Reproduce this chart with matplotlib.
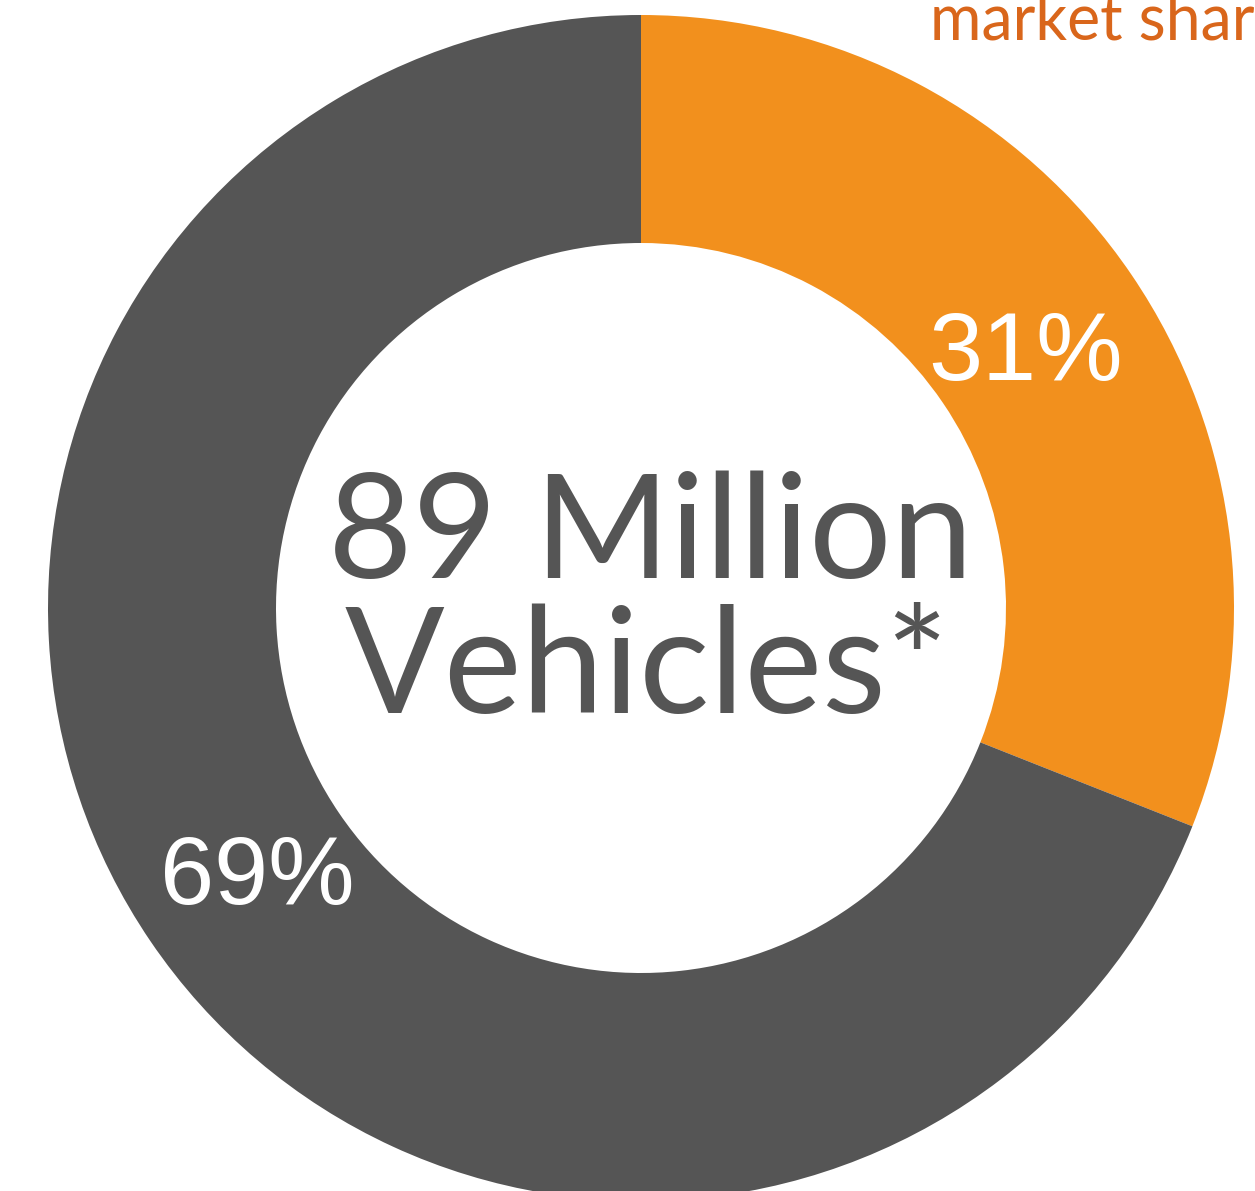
import matplotlib

matplotlib.use("Agg")
import matplotlib.pyplot as plt

W, H = 1255, 1191

# vehicle share split
shares = [31, 69]
share_labels = ["31%", "69%"]
colors = ["#F2901D", "#555555"]
center_lines = ["89 Million", "Vehicles*"]
header = "market share"

fig = plt.figure(figsize=(W / 100, H / 100), dpi=100)
ax = fig.add_axes([0, 0, 1, 1])

cx, cy = 641, H - 608
r_out, r_in = 593, 365

ax.pie(
    shares,
    colors=colors,
    startangle=90,
    counterclock=False,
    center=(cx, cy),
    radius=r_out,
    wedgeprops=dict(width=r_out - r_in, linewidth=0),
    frame=True,
)
ax.set_xlim(0, W)
ax.set_ylim(0, H)
ax.set_aspect("equal")
ax.axis("off")

# percentage labels inside the ring
ax.text(1026, H - 355, share_labels[0], color="white", fontsize=70,
        family="Liberation Sans", ha="center", va="center")
ax.text(257, H - 879, share_labels[1], color="white", fontsize=70,
        family="Liberation Sans", ha="center", va="center")

# centre caption
ax.text(650, H - 537, center_lines[0], color="#555555", fontsize=105,
        family="Lato", ha="center", va="center")
ax.text(647, H - 671, center_lines[1], color="#555555", fontsize=106,
        family="Lato", ha="center", va="center")

# heading runs off the right edge of the canvas
ax.text(930, H - 40, header, color="#D9661B", fontsize=45,
        family="Lato", ha="left", va="baseline")

fig.savefig("out.png", dpi=100)
